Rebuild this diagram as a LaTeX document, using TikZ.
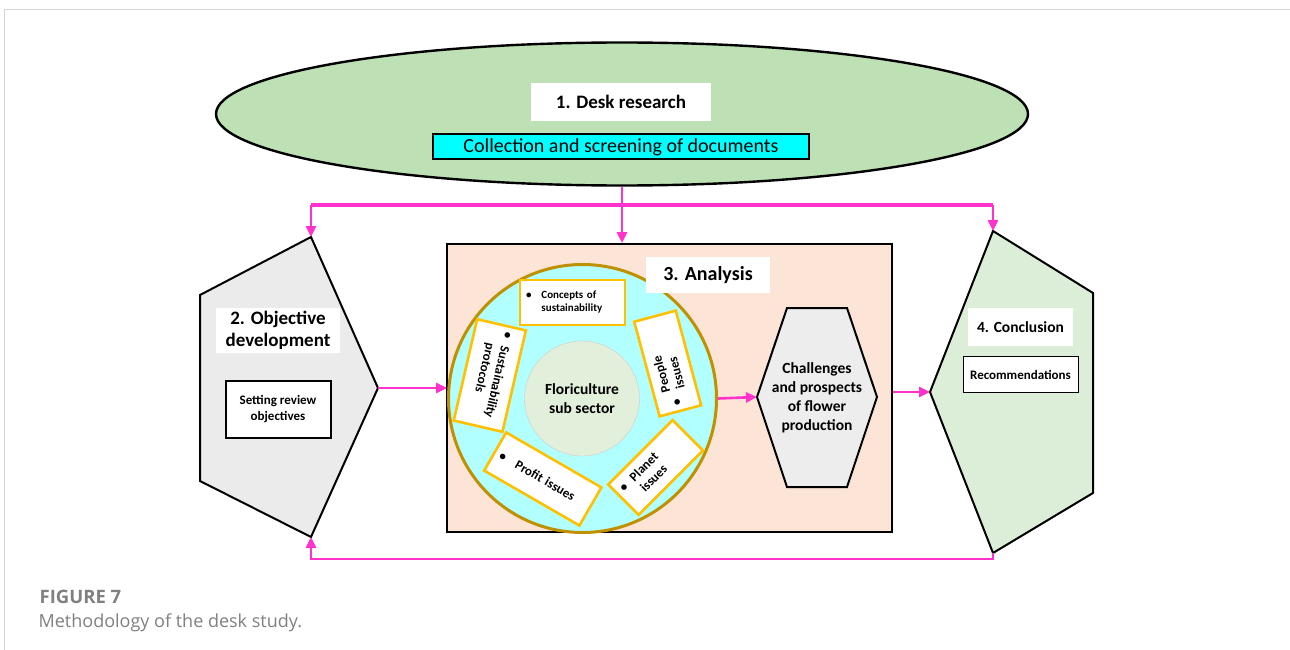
\documentclass[tikz,border=0pt]{standalone}
\usepackage{fontspec}
\setmainfont{Carlito}
\newfontfamily\capfont{Open Sans}
\usetikzlibrary{arrows.meta, shapes.geometric, positioning}

\definecolor{linkpink}{RGB}{255,51,204}
\definecolor{deskgreen}{RGB}{189,225,180}
\definecolor{screencyan}{RGB}{0,255,255}
\definecolor{objgray}{RGB}{235,235,235}
\definecolor{concgreen}{RGB}{221,238,216}
\definecolor{analpeach}{RGB}{252,228,214}
\definecolor{ringcyan}{RGB}{178,255,255}
\definecolor{ringgold}{RGB}{191,144,0}
\definecolor{tagorange}{RGB}{255,192,0}
\definecolor{coregreen}{RGB}{226,239,218}
\definecolor{hexgray}{RGB}{237,237,237}
\definecolor{capgray}{RGB}{128,128,128}
\definecolor{framegray}{RGB}{212,212,212}

\begin{document}
\begin{tikzpicture}[
            x = 1pt, y = -1pt, % one unit per pixel, y runs downwards
            > = {Triangle[length=11pt, width=10pt]}, % arrow head style
            line join = miter,
            semithick % line style
        ]

        \tikzstyle{link}=[draw = linkpink, line width = 2.6pt]
        \tikzstyle{outline}=[draw = black, line width = 2pt]
        \tikzstyle{headbox}=[
            fill = white,
            inner sep = 0pt,
            align = center,
            font = \fontsize{19}{22}\selectfont\bfseries
        ]
        \tikzstyle{infobox}=[
            draw = black,
            fill = white,
            inner sep = 0pt,
            align = center,
            font = \fontsize{13}{16}\selectfont\bfseries
        ]
        \tikzstyle{tagbox}=[
            draw = tagorange,
            line width = 2.6pt,
            fill = white,
            inner xsep = 6pt,
            inner ysep = 0pt,
            align = left,
            font = \fontsize{13}{15}\selectfont\bfseries
        ]

	\useasboundingbox (0,0) rectangle (1290,650);
	\draw[framegray, line width = 1pt] (4,650) -- (4,10) -- (1290,10);

	% 1. desk research
	\node[ellipse, outline, line width = 2.4pt, fill = deskgreen, minimum width = 812, minimum height = 143] (desk) at (622,114) {};
	\node[headbox, minimum width = 180, minimum height = 38] (deskhead) at (621,102) {1. Desk research};
	\node[infobox, fill = screencyan, line width = 2pt, minimum width = 376, minimum height = 25, font = \fontsize{20}{23}\selectfont] (collect) [below = 12pt of deskhead] {Collection and screening of documents};

	% 2. objective development
	\coordinate (objtop) at (311,237);
	\coordinate (objtip) at (378,388);
	\coordinate (objbot) at (311,537);
	\draw[outline, fill = objgray] (objtop) -- (objtip) -- (objbot) -- (200,481) -- (200,295) -- cycle;
	\node[headbox, minimum width = 124, minimum height = 45] (objhead) at (278,330) {2. Objective\\development};
	\node[infobox, line width = 2pt, minimum width = 105, minimum height = 57] (review) [below = 27pt of objhead] {Setting review\\objectives};

	% 3. analysis
	\node[outline, fill = analpeach, minimum width = 445, minimum height = 288] (anal) at (669.5,388) {};
	\node[circle, draw = ringgold, line width = 3pt, fill = ringcyan, minimum size = 268] (ring) at (582.5,398.5) {};
	\node[headbox, minimum width = 124, minimum height = 36, font = \fontsize{20}{24}\selectfont\bfseries] (analhead) at (708,275) {3. Analysis};
	\node[circle, draw = black!20, thin, fill = coregreen, minimum size = 115, align = center, font = \fontsize{15.5}{19}\selectfont\bfseries] (flori) at (582,398.5) {Floriculture\\sub sector};

	\node[tagbox, text width = 93, minimum height = 45, font = \fontsize{11}{13}\selectfont\bfseries] (concept) at (572.5,302.5) {\textbullet\hspace{10pt}\begin{tabular}[t]{@{}l@{}}Concepts of\\sustainability\end{tabular}};
	\node[tagbox, rotate = -103, text width = 92, minimum height = 50] (protocol) at (489.8,375.5) {\textbullet\hspace{8pt}\begin{tabular}[t]{@{}l@{}}Sustainability\\protocols\end{tabular}};
	\node[tagbox, rotate = 105, text width = 86, minimum height = 43] (people) at (667.7,363.5) {\textbullet\hspace{9pt}\begin{tabular}[c]{@{}l@{}}People\\issues\end{tabular}};
	\node[tagbox, rotate = -30, text width = 98, minimum height = 44] (profit) at (542.8,479) {\textbullet\hspace{12pt}Profit issues};
	\node[tagbox, rotate = 45, text width = 79, minimum height = 43] (planet) at (655.6,467.5) {\textbullet\hspace{8pt}\begin{tabular}[t]{@{}l@{}}Planet\\issues\end{tabular}};

	\coordinate (hexleft) at (757,397);
	\draw[outline, fill = hexgray] (hexleft) -- (787,308) -- (847,308) -- (877,397) -- (847,487) -- (787,487) -- cycle;
	\node[align = center, font = \fontsize{15.5}{19}\selectfont\bfseries] (chal) at (817,398) {Challenges\\and prospects\\of flower\\production};

	% 4. conclusion
	\coordinate (conctop) at (993,231);
	\coordinate (conctip) at (930,392);
	\coordinate (concbot) at (993,553);
	\draw[outline, fill = concgreen] (conctop) -- (1093,293) -- (1093,493) -- (concbot) -- (conctip) -- cycle;
	\node[headbox, minimum width = 105, minimum height = 38, font = \fontsize{15.5}{19}\selectfont\bfseries] (conchead) at (1020.5,327) {4. Conclusion};
	\node[infobox, line width = 1pt, minimum width = 115, minimum height = 36] (recom) [below = 10pt of conchead] {Recommendations};

	% connectors
	\coordinate (split) at (622,205);
	\coordinate (back) at (622,559);
	\draw[link, ->] (desk.south) -- (desk.south |- anal.north);
	\draw[link, line width = 3.6pt] (objtop |- split) -- (conctop |- split);
	\draw[link, ->] (objtop |- split) -- (objtop);
	\draw[link, ->] (conctop |- split) -- (conctop);
	\draw[link, ->] (objtip) -- (objtip -| ring.west);
	\draw[link, ->] (ring.east) -- (hexleft);
	\draw[link, ->] (anal.east |- conctip) -- (conctip);
	\draw[link, ->] (concbot) -- (concbot |- back) -| (objbot);

	% caption
	\node[anchor = base west, text = capgray, font = \capfont\fontsize{18.5}{20}\selectfont\bfseries] (fignum) at (36,603) {FIGURE 7};
	\node[anchor = base west, text = capgray, font = \capfont\fontsize{18}{20}\selectfont] (figcap) at (35,627) {Methodology of the desk study.};

    \end{tikzpicture}
\end{document}
